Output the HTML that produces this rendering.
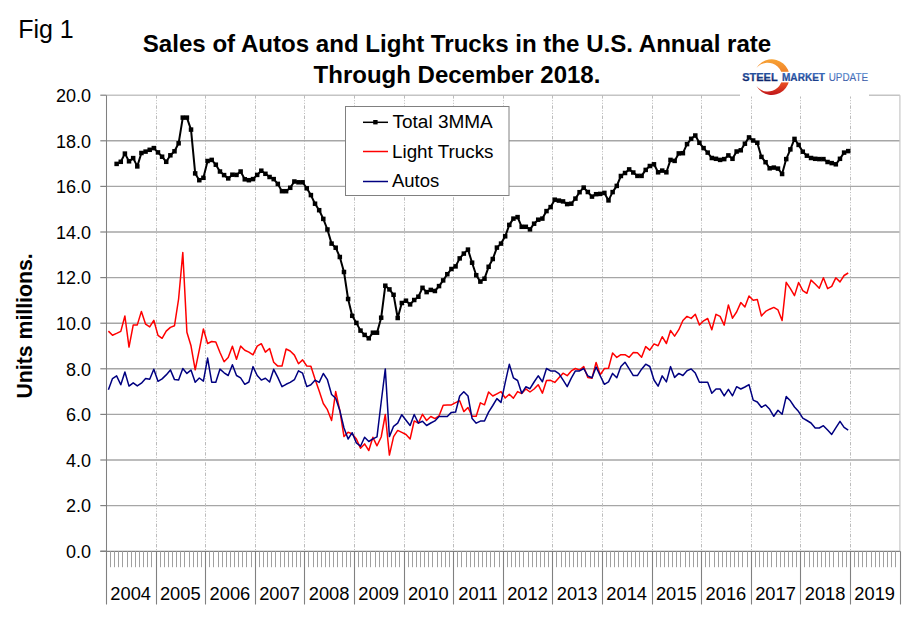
<!DOCTYPE html><html><head><meta charset="utf-8"><style>html,body{margin:0;padding:0;background:#fff;width:910px;height:622px;overflow:hidden}svg{display:block}text{font-family:"Liberation Sans",Arial,sans-serif}</style></head><body>
<svg width="910" height="622" viewBox="0 0 910 622">
<rect width="910" height="622" fill="#fff"/>
<line x1="106.3" y1="505.6" x2="899.9" y2="505.6" stroke="#a6a6a6" stroke-width="1.4"/>
<line x1="106.3" y1="460.0" x2="899.9" y2="460.0" stroke="#a6a6a6" stroke-width="1.4"/>
<line x1="106.3" y1="414.4" x2="899.9" y2="414.4" stroke="#a6a6a6" stroke-width="1.4"/>
<line x1="106.3" y1="368.8" x2="899.9" y2="368.8" stroke="#a6a6a6" stroke-width="1.4"/>
<line x1="106.3" y1="323.2" x2="899.9" y2="323.2" stroke="#a6a6a6" stroke-width="1.4"/>
<line x1="106.3" y1="277.6" x2="899.9" y2="277.6" stroke="#a6a6a6" stroke-width="1.4"/>
<line x1="106.3" y1="232.0" x2="899.9" y2="232.0" stroke="#a6a6a6" stroke-width="1.4"/>
<line x1="106.3" y1="186.4" x2="899.9" y2="186.4" stroke="#a6a6a6" stroke-width="1.4"/>
<line x1="106.3" y1="140.8" x2="899.9" y2="140.8" stroke="#a6a6a6" stroke-width="1.4"/>
<line x1="106.3" y1="95.2" x2="899.9" y2="95.2" stroke="#c4c4c4" stroke-width="1.4"/>
<line x1="156.5" y1="95.2" x2="156.5" y2="551.2" stroke="#bcbcbc" stroke-width="1" stroke-dasharray="3.4 1.6 1 1.6 1 1.6"/>
<line x1="205.5" y1="95.2" x2="205.5" y2="551.2" stroke="#bcbcbc" stroke-width="1" stroke-dasharray="3.4 1.6 1 1.6 1 1.6"/>
<line x1="255.5" y1="95.2" x2="255.5" y2="551.2" stroke="#bcbcbc" stroke-width="1" stroke-dasharray="3.4 1.6 1 1.6 1 1.6"/>
<line x1="304.5" y1="95.2" x2="304.5" y2="551.2" stroke="#bcbcbc" stroke-width="1" stroke-dasharray="3.4 1.6 1 1.6 1 1.6"/>
<line x1="354.5" y1="95.2" x2="354.5" y2="551.2" stroke="#bcbcbc" stroke-width="1" stroke-dasharray="3.4 1.6 1 1.6 1 1.6"/>
<line x1="404.5" y1="95.2" x2="404.5" y2="551.2" stroke="#bcbcbc" stroke-width="1" stroke-dasharray="3.4 1.6 1 1.6 1 1.6"/>
<line x1="453.5" y1="95.2" x2="453.5" y2="551.2" stroke="#bcbcbc" stroke-width="1" stroke-dasharray="3.4 1.6 1 1.6 1 1.6"/>
<line x1="503.5" y1="95.2" x2="503.5" y2="551.2" stroke="#bcbcbc" stroke-width="1" stroke-dasharray="3.4 1.6 1 1.6 1 1.6"/>
<line x1="552.5" y1="95.2" x2="552.5" y2="551.2" stroke="#bcbcbc" stroke-width="1" stroke-dasharray="3.4 1.6 1 1.6 1 1.6"/>
<line x1="602.5" y1="95.2" x2="602.5" y2="551.2" stroke="#bcbcbc" stroke-width="1" stroke-dasharray="3.4 1.6 1 1.6 1 1.6"/>
<line x1="652.5" y1="95.2" x2="652.5" y2="551.2" stroke="#bcbcbc" stroke-width="1" stroke-dasharray="3.4 1.6 1 1.6 1 1.6"/>
<line x1="701.5" y1="95.2" x2="701.5" y2="551.2" stroke="#bcbcbc" stroke-width="1" stroke-dasharray="3.4 1.6 1 1.6 1 1.6"/>
<line x1="751.5" y1="95.2" x2="751.5" y2="551.2" stroke="#bcbcbc" stroke-width="1" stroke-dasharray="3.4 1.6 1 1.6 1 1.6"/>
<line x1="800.5" y1="95.2" x2="800.5" y2="551.2" stroke="#bcbcbc" stroke-width="1" stroke-dasharray="3.4 1.6 1 1.6 1 1.6"/>
<line x1="850.5" y1="95.2" x2="850.5" y2="551.2" stroke="#bcbcbc" stroke-width="1" stroke-dasharray="3.4 1.6 1 1.6 1 1.6"/>
<line x1="899.9" y1="95.2" x2="899.9" y2="551.2" stroke="#c8c8c8" stroke-width="1.2"/>
<line x1="106.5" y1="95.2" x2="106.5" y2="551.2" stroke="#808080" stroke-width="1.05"/>
<line x1="100.3" y1="551.2" x2="106.3" y2="551.2" stroke="#808080" stroke-width="1.2"/>
<text x="91.1" y="557.9" font-size="18" text-anchor="end">0.0</text>
<line x1="100.3" y1="505.6" x2="106.3" y2="505.6" stroke="#808080" stroke-width="1.2"/>
<text x="91.1" y="512.3" font-size="18" text-anchor="end">2.0</text>
<line x1="100.3" y1="460.0" x2="106.3" y2="460.0" stroke="#808080" stroke-width="1.2"/>
<text x="91.1" y="466.7" font-size="18" text-anchor="end">4.0</text>
<line x1="100.3" y1="414.4" x2="106.3" y2="414.4" stroke="#808080" stroke-width="1.2"/>
<text x="91.1" y="421.1" font-size="18" text-anchor="end">6.0</text>
<line x1="100.3" y1="368.8" x2="106.3" y2="368.8" stroke="#808080" stroke-width="1.2"/>
<text x="91.1" y="375.5" font-size="18" text-anchor="end">8.0</text>
<line x1="100.3" y1="323.2" x2="106.3" y2="323.2" stroke="#808080" stroke-width="1.2"/>
<text x="91.1" y="329.9" font-size="18" text-anchor="end">10.0</text>
<line x1="100.3" y1="277.6" x2="106.3" y2="277.6" stroke="#808080" stroke-width="1.2"/>
<text x="91.1" y="284.3" font-size="18" text-anchor="end">12.0</text>
<line x1="100.3" y1="232.0" x2="106.3" y2="232.0" stroke="#808080" stroke-width="1.2"/>
<text x="91.1" y="238.7" font-size="18" text-anchor="end">14.0</text>
<line x1="100.3" y1="186.4" x2="106.3" y2="186.4" stroke="#808080" stroke-width="1.2"/>
<text x="91.1" y="193.1" font-size="18" text-anchor="end">16.0</text>
<line x1="100.3" y1="140.8" x2="106.3" y2="140.8" stroke="#808080" stroke-width="1.2"/>
<text x="91.1" y="147.5" font-size="18" text-anchor="end">18.0</text>
<line x1="100.3" y1="95.2" x2="106.3" y2="95.2" stroke="#808080" stroke-width="1.2"/>
<text x="91.1" y="101.9" font-size="18" text-anchor="end">20.0</text>
<line x1="100.3" y1="551.4" x2="899.9" y2="551.4" stroke="#808080" stroke-width="1.1"/>
<line x1="110.5" y1="551.2" x2="110.5" y2="567.2" stroke="#a0a0a0" stroke-width="1"/>
<line x1="114.5" y1="551.2" x2="114.5" y2="567.2" stroke="#a0a0a0" stroke-width="1"/>
<line x1="118.5" y1="551.2" x2="118.5" y2="567.2" stroke="#a0a0a0" stroke-width="1"/>
<line x1="122.5" y1="551.2" x2="122.5" y2="567.2" stroke="#a0a0a0" stroke-width="1"/>
<line x1="127.5" y1="551.2" x2="127.5" y2="567.2" stroke="#a0a0a0" stroke-width="1"/>
<line x1="131.5" y1="551.2" x2="131.5" y2="567.2" stroke="#a0a0a0" stroke-width="1"/>
<line x1="135.5" y1="551.2" x2="135.5" y2="567.2" stroke="#a0a0a0" stroke-width="1"/>
<line x1="139.5" y1="551.2" x2="139.5" y2="567.2" stroke="#a0a0a0" stroke-width="1"/>
<line x1="143.5" y1="551.2" x2="143.5" y2="567.2" stroke="#a0a0a0" stroke-width="1"/>
<line x1="147.5" y1="551.2" x2="147.5" y2="567.2" stroke="#a0a0a0" stroke-width="1"/>
<line x1="151.5" y1="551.2" x2="151.5" y2="567.2" stroke="#a0a0a0" stroke-width="1"/>
<line x1="160.5" y1="551.2" x2="160.5" y2="567.2" stroke="#a0a0a0" stroke-width="1"/>
<line x1="164.5" y1="551.2" x2="164.5" y2="567.2" stroke="#a0a0a0" stroke-width="1"/>
<line x1="168.5" y1="551.2" x2="168.5" y2="567.2" stroke="#a0a0a0" stroke-width="1"/>
<line x1="172.5" y1="551.2" x2="172.5" y2="567.2" stroke="#a0a0a0" stroke-width="1"/>
<line x1="176.5" y1="551.2" x2="176.5" y2="567.2" stroke="#a0a0a0" stroke-width="1"/>
<line x1="180.5" y1="551.2" x2="180.5" y2="567.2" stroke="#a0a0a0" stroke-width="1"/>
<line x1="184.5" y1="551.2" x2="184.5" y2="567.2" stroke="#a0a0a0" stroke-width="1"/>
<line x1="189.5" y1="551.2" x2="189.5" y2="567.2" stroke="#a0a0a0" stroke-width="1"/>
<line x1="193.5" y1="551.2" x2="193.5" y2="567.2" stroke="#a0a0a0" stroke-width="1"/>
<line x1="197.5" y1="551.2" x2="197.5" y2="567.2" stroke="#a0a0a0" stroke-width="1"/>
<line x1="201.5" y1="551.2" x2="201.5" y2="567.2" stroke="#a0a0a0" stroke-width="1"/>
<line x1="209.5" y1="551.2" x2="209.5" y2="567.2" stroke="#a0a0a0" stroke-width="1"/>
<line x1="213.5" y1="551.2" x2="213.5" y2="567.2" stroke="#a0a0a0" stroke-width="1"/>
<line x1="218.5" y1="551.2" x2="218.5" y2="567.2" stroke="#a0a0a0" stroke-width="1"/>
<line x1="222.5" y1="551.2" x2="222.5" y2="567.2" stroke="#a0a0a0" stroke-width="1"/>
<line x1="226.5" y1="551.2" x2="226.5" y2="567.2" stroke="#a0a0a0" stroke-width="1"/>
<line x1="230.5" y1="551.2" x2="230.5" y2="567.2" stroke="#a0a0a0" stroke-width="1"/>
<line x1="234.5" y1="551.2" x2="234.5" y2="567.2" stroke="#a0a0a0" stroke-width="1"/>
<line x1="238.5" y1="551.2" x2="238.5" y2="567.2" stroke="#a0a0a0" stroke-width="1"/>
<line x1="242.5" y1="551.2" x2="242.5" y2="567.2" stroke="#a0a0a0" stroke-width="1"/>
<line x1="246.5" y1="551.2" x2="246.5" y2="567.2" stroke="#a0a0a0" stroke-width="1"/>
<line x1="251.5" y1="551.2" x2="251.5" y2="567.2" stroke="#a0a0a0" stroke-width="1"/>
<line x1="259.5" y1="551.2" x2="259.5" y2="567.2" stroke="#a0a0a0" stroke-width="1"/>
<line x1="263.5" y1="551.2" x2="263.5" y2="567.2" stroke="#a0a0a0" stroke-width="1"/>
<line x1="267.5" y1="551.2" x2="267.5" y2="567.2" stroke="#a0a0a0" stroke-width="1"/>
<line x1="271.5" y1="551.2" x2="271.5" y2="567.2" stroke="#a0a0a0" stroke-width="1"/>
<line x1="275.5" y1="551.2" x2="275.5" y2="567.2" stroke="#a0a0a0" stroke-width="1"/>
<line x1="280.5" y1="551.2" x2="280.5" y2="567.2" stroke="#a0a0a0" stroke-width="1"/>
<line x1="284.5" y1="551.2" x2="284.5" y2="567.2" stroke="#a0a0a0" stroke-width="1"/>
<line x1="288.5" y1="551.2" x2="288.5" y2="567.2" stroke="#a0a0a0" stroke-width="1"/>
<line x1="292.5" y1="551.2" x2="292.5" y2="567.2" stroke="#a0a0a0" stroke-width="1"/>
<line x1="296.5" y1="551.2" x2="296.5" y2="567.2" stroke="#a0a0a0" stroke-width="1"/>
<line x1="300.5" y1="551.2" x2="300.5" y2="567.2" stroke="#a0a0a0" stroke-width="1"/>
<line x1="308.5" y1="551.2" x2="308.5" y2="567.2" stroke="#a0a0a0" stroke-width="1"/>
<line x1="313.5" y1="551.2" x2="313.5" y2="567.2" stroke="#a0a0a0" stroke-width="1"/>
<line x1="317.5" y1="551.2" x2="317.5" y2="567.2" stroke="#a0a0a0" stroke-width="1"/>
<line x1="321.5" y1="551.2" x2="321.5" y2="567.2" stroke="#a0a0a0" stroke-width="1"/>
<line x1="325.5" y1="551.2" x2="325.5" y2="567.2" stroke="#a0a0a0" stroke-width="1"/>
<line x1="329.5" y1="551.2" x2="329.5" y2="567.2" stroke="#a0a0a0" stroke-width="1"/>
<line x1="333.5" y1="551.2" x2="333.5" y2="567.2" stroke="#a0a0a0" stroke-width="1"/>
<line x1="337.5" y1="551.2" x2="337.5" y2="567.2" stroke="#a0a0a0" stroke-width="1"/>
<line x1="342.5" y1="551.2" x2="342.5" y2="567.2" stroke="#a0a0a0" stroke-width="1"/>
<line x1="346.5" y1="551.2" x2="346.5" y2="567.2" stroke="#a0a0a0" stroke-width="1"/>
<line x1="350.5" y1="551.2" x2="350.5" y2="567.2" stroke="#a0a0a0" stroke-width="1"/>
<line x1="358.5" y1="551.2" x2="358.5" y2="567.2" stroke="#a0a0a0" stroke-width="1"/>
<line x1="362.5" y1="551.2" x2="362.5" y2="567.2" stroke="#a0a0a0" stroke-width="1"/>
<line x1="366.5" y1="551.2" x2="366.5" y2="567.2" stroke="#a0a0a0" stroke-width="1"/>
<line x1="370.5" y1="551.2" x2="370.5" y2="567.2" stroke="#a0a0a0" stroke-width="1"/>
<line x1="375.5" y1="551.2" x2="375.5" y2="567.2" stroke="#a0a0a0" stroke-width="1"/>
<line x1="379.5" y1="551.2" x2="379.5" y2="567.2" stroke="#a0a0a0" stroke-width="1"/>
<line x1="383.5" y1="551.2" x2="383.5" y2="567.2" stroke="#a0a0a0" stroke-width="1"/>
<line x1="387.5" y1="551.2" x2="387.5" y2="567.2" stroke="#a0a0a0" stroke-width="1"/>
<line x1="391.5" y1="551.2" x2="391.5" y2="567.2" stroke="#a0a0a0" stroke-width="1"/>
<line x1="395.5" y1="551.2" x2="395.5" y2="567.2" stroke="#a0a0a0" stroke-width="1"/>
<line x1="399.5" y1="551.2" x2="399.5" y2="567.2" stroke="#a0a0a0" stroke-width="1"/>
<line x1="408.5" y1="551.2" x2="408.5" y2="567.2" stroke="#a0a0a0" stroke-width="1"/>
<line x1="412.5" y1="551.2" x2="412.5" y2="567.2" stroke="#a0a0a0" stroke-width="1"/>
<line x1="416.5" y1="551.2" x2="416.5" y2="567.2" stroke="#a0a0a0" stroke-width="1"/>
<line x1="420.5" y1="551.2" x2="420.5" y2="567.2" stroke="#a0a0a0" stroke-width="1"/>
<line x1="424.5" y1="551.2" x2="424.5" y2="567.2" stroke="#a0a0a0" stroke-width="1"/>
<line x1="428.5" y1="551.2" x2="428.5" y2="567.2" stroke="#a0a0a0" stroke-width="1"/>
<line x1="432.5" y1="551.2" x2="432.5" y2="567.2" stroke="#a0a0a0" stroke-width="1"/>
<line x1="437.5" y1="551.2" x2="437.5" y2="567.2" stroke="#a0a0a0" stroke-width="1"/>
<line x1="441.5" y1="551.2" x2="441.5" y2="567.2" stroke="#a0a0a0" stroke-width="1"/>
<line x1="445.5" y1="551.2" x2="445.5" y2="567.2" stroke="#a0a0a0" stroke-width="1"/>
<line x1="449.5" y1="551.2" x2="449.5" y2="567.2" stroke="#a0a0a0" stroke-width="1"/>
<line x1="457.5" y1="551.2" x2="457.5" y2="567.2" stroke="#a0a0a0" stroke-width="1"/>
<line x1="461.5" y1="551.2" x2="461.5" y2="567.2" stroke="#a0a0a0" stroke-width="1"/>
<line x1="466.5" y1="551.2" x2="466.5" y2="567.2" stroke="#a0a0a0" stroke-width="1"/>
<line x1="470.5" y1="551.2" x2="470.5" y2="567.2" stroke="#a0a0a0" stroke-width="1"/>
<line x1="474.5" y1="551.2" x2="474.5" y2="567.2" stroke="#a0a0a0" stroke-width="1"/>
<line x1="478.5" y1="551.2" x2="478.5" y2="567.2" stroke="#a0a0a0" stroke-width="1"/>
<line x1="482.5" y1="551.2" x2="482.5" y2="567.2" stroke="#a0a0a0" stroke-width="1"/>
<line x1="486.5" y1="551.2" x2="486.5" y2="567.2" stroke="#a0a0a0" stroke-width="1"/>
<line x1="490.5" y1="551.2" x2="490.5" y2="567.2" stroke="#a0a0a0" stroke-width="1"/>
<line x1="494.5" y1="551.2" x2="494.5" y2="567.2" stroke="#a0a0a0" stroke-width="1"/>
<line x1="499.5" y1="551.2" x2="499.5" y2="567.2" stroke="#a0a0a0" stroke-width="1"/>
<line x1="507.5" y1="551.2" x2="507.5" y2="567.2" stroke="#a0a0a0" stroke-width="1"/>
<line x1="511.5" y1="551.2" x2="511.5" y2="567.2" stroke="#a0a0a0" stroke-width="1"/>
<line x1="515.5" y1="551.2" x2="515.5" y2="567.2" stroke="#a0a0a0" stroke-width="1"/>
<line x1="519.5" y1="551.2" x2="519.5" y2="567.2" stroke="#a0a0a0" stroke-width="1"/>
<line x1="523.5" y1="551.2" x2="523.5" y2="567.2" stroke="#a0a0a0" stroke-width="1"/>
<line x1="528.5" y1="551.2" x2="528.5" y2="567.2" stroke="#a0a0a0" stroke-width="1"/>
<line x1="532.5" y1="551.2" x2="532.5" y2="567.2" stroke="#a0a0a0" stroke-width="1"/>
<line x1="536.5" y1="551.2" x2="536.5" y2="567.2" stroke="#a0a0a0" stroke-width="1"/>
<line x1="540.5" y1="551.2" x2="540.5" y2="567.2" stroke="#a0a0a0" stroke-width="1"/>
<line x1="544.5" y1="551.2" x2="544.5" y2="567.2" stroke="#a0a0a0" stroke-width="1"/>
<line x1="548.5" y1="551.2" x2="548.5" y2="567.2" stroke="#a0a0a0" stroke-width="1"/>
<line x1="556.5" y1="551.2" x2="556.5" y2="567.2" stroke="#a0a0a0" stroke-width="1"/>
<line x1="561.5" y1="551.2" x2="561.5" y2="567.2" stroke="#a0a0a0" stroke-width="1"/>
<line x1="565.5" y1="551.2" x2="565.5" y2="567.2" stroke="#a0a0a0" stroke-width="1"/>
<line x1="569.5" y1="551.2" x2="569.5" y2="567.2" stroke="#a0a0a0" stroke-width="1"/>
<line x1="573.5" y1="551.2" x2="573.5" y2="567.2" stroke="#a0a0a0" stroke-width="1"/>
<line x1="577.5" y1="551.2" x2="577.5" y2="567.2" stroke="#a0a0a0" stroke-width="1"/>
<line x1="581.5" y1="551.2" x2="581.5" y2="567.2" stroke="#a0a0a0" stroke-width="1"/>
<line x1="585.5" y1="551.2" x2="585.5" y2="567.2" stroke="#a0a0a0" stroke-width="1"/>
<line x1="590.5" y1="551.2" x2="590.5" y2="567.2" stroke="#a0a0a0" stroke-width="1"/>
<line x1="594.5" y1="551.2" x2="594.5" y2="567.2" stroke="#a0a0a0" stroke-width="1"/>
<line x1="598.5" y1="551.2" x2="598.5" y2="567.2" stroke="#a0a0a0" stroke-width="1"/>
<line x1="606.5" y1="551.2" x2="606.5" y2="567.2" stroke="#a0a0a0" stroke-width="1"/>
<line x1="610.5" y1="551.2" x2="610.5" y2="567.2" stroke="#a0a0a0" stroke-width="1"/>
<line x1="614.5" y1="551.2" x2="614.5" y2="567.2" stroke="#a0a0a0" stroke-width="1"/>
<line x1="618.5" y1="551.2" x2="618.5" y2="567.2" stroke="#a0a0a0" stroke-width="1"/>
<line x1="623.5" y1="551.2" x2="623.5" y2="567.2" stroke="#a0a0a0" stroke-width="1"/>
<line x1="627.5" y1="551.2" x2="627.5" y2="567.2" stroke="#a0a0a0" stroke-width="1"/>
<line x1="631.5" y1="551.2" x2="631.5" y2="567.2" stroke="#a0a0a0" stroke-width="1"/>
<line x1="635.5" y1="551.2" x2="635.5" y2="567.2" stroke="#a0a0a0" stroke-width="1"/>
<line x1="639.5" y1="551.2" x2="639.5" y2="567.2" stroke="#a0a0a0" stroke-width="1"/>
<line x1="643.5" y1="551.2" x2="643.5" y2="567.2" stroke="#a0a0a0" stroke-width="1"/>
<line x1="647.5" y1="551.2" x2="647.5" y2="567.2" stroke="#a0a0a0" stroke-width="1"/>
<line x1="656.5" y1="551.2" x2="656.5" y2="567.2" stroke="#a0a0a0" stroke-width="1"/>
<line x1="660.5" y1="551.2" x2="660.5" y2="567.2" stroke="#a0a0a0" stroke-width="1"/>
<line x1="664.5" y1="551.2" x2="664.5" y2="567.2" stroke="#a0a0a0" stroke-width="1"/>
<line x1="668.5" y1="551.2" x2="668.5" y2="567.2" stroke="#a0a0a0" stroke-width="1"/>
<line x1="672.5" y1="551.2" x2="672.5" y2="567.2" stroke="#a0a0a0" stroke-width="1"/>
<line x1="676.5" y1="551.2" x2="676.5" y2="567.2" stroke="#a0a0a0" stroke-width="1"/>
<line x1="680.5" y1="551.2" x2="680.5" y2="567.2" stroke="#a0a0a0" stroke-width="1"/>
<line x1="685.5" y1="551.2" x2="685.5" y2="567.2" stroke="#a0a0a0" stroke-width="1"/>
<line x1="689.5" y1="551.2" x2="689.5" y2="567.2" stroke="#a0a0a0" stroke-width="1"/>
<line x1="693.5" y1="551.2" x2="693.5" y2="567.2" stroke="#a0a0a0" stroke-width="1"/>
<line x1="697.5" y1="551.2" x2="697.5" y2="567.2" stroke="#a0a0a0" stroke-width="1"/>
<line x1="705.5" y1="551.2" x2="705.5" y2="567.2" stroke="#a0a0a0" stroke-width="1"/>
<line x1="709.5" y1="551.2" x2="709.5" y2="567.2" stroke="#a0a0a0" stroke-width="1"/>
<line x1="714.5" y1="551.2" x2="714.5" y2="567.2" stroke="#a0a0a0" stroke-width="1"/>
<line x1="718.5" y1="551.2" x2="718.5" y2="567.2" stroke="#a0a0a0" stroke-width="1"/>
<line x1="722.5" y1="551.2" x2="722.5" y2="567.2" stroke="#a0a0a0" stroke-width="1"/>
<line x1="726.5" y1="551.2" x2="726.5" y2="567.2" stroke="#a0a0a0" stroke-width="1"/>
<line x1="730.5" y1="551.2" x2="730.5" y2="567.2" stroke="#a0a0a0" stroke-width="1"/>
<line x1="734.5" y1="551.2" x2="734.5" y2="567.2" stroke="#a0a0a0" stroke-width="1"/>
<line x1="738.5" y1="551.2" x2="738.5" y2="567.2" stroke="#a0a0a0" stroke-width="1"/>
<line x1="742.5" y1="551.2" x2="742.5" y2="567.2" stroke="#a0a0a0" stroke-width="1"/>
<line x1="747.5" y1="551.2" x2="747.5" y2="567.2" stroke="#a0a0a0" stroke-width="1"/>
<line x1="755.5" y1="551.2" x2="755.5" y2="567.2" stroke="#a0a0a0" stroke-width="1"/>
<line x1="759.5" y1="551.2" x2="759.5" y2="567.2" stroke="#a0a0a0" stroke-width="1"/>
<line x1="763.5" y1="551.2" x2="763.5" y2="567.2" stroke="#a0a0a0" stroke-width="1"/>
<line x1="767.5" y1="551.2" x2="767.5" y2="567.2" stroke="#a0a0a0" stroke-width="1"/>
<line x1="771.5" y1="551.2" x2="771.5" y2="567.2" stroke="#a0a0a0" stroke-width="1"/>
<line x1="776.5" y1="551.2" x2="776.5" y2="567.2" stroke="#a0a0a0" stroke-width="1"/>
<line x1="780.5" y1="551.2" x2="780.5" y2="567.2" stroke="#a0a0a0" stroke-width="1"/>
<line x1="784.5" y1="551.2" x2="784.5" y2="567.2" stroke="#a0a0a0" stroke-width="1"/>
<line x1="788.5" y1="551.2" x2="788.5" y2="567.2" stroke="#a0a0a0" stroke-width="1"/>
<line x1="792.5" y1="551.2" x2="792.5" y2="567.2" stroke="#a0a0a0" stroke-width="1"/>
<line x1="796.5" y1="551.2" x2="796.5" y2="567.2" stroke="#a0a0a0" stroke-width="1"/>
<line x1="804.5" y1="551.2" x2="804.5" y2="567.2" stroke="#a0a0a0" stroke-width="1"/>
<line x1="809.5" y1="551.2" x2="809.5" y2="567.2" stroke="#a0a0a0" stroke-width="1"/>
<line x1="813.5" y1="551.2" x2="813.5" y2="567.2" stroke="#a0a0a0" stroke-width="1"/>
<line x1="817.5" y1="551.2" x2="817.5" y2="567.2" stroke="#a0a0a0" stroke-width="1"/>
<line x1="821.5" y1="551.2" x2="821.5" y2="567.2" stroke="#a0a0a0" stroke-width="1"/>
<line x1="825.5" y1="551.2" x2="825.5" y2="567.2" stroke="#a0a0a0" stroke-width="1"/>
<line x1="829.5" y1="551.2" x2="829.5" y2="567.2" stroke="#a0a0a0" stroke-width="1"/>
<line x1="833.5" y1="551.2" x2="833.5" y2="567.2" stroke="#a0a0a0" stroke-width="1"/>
<line x1="838.5" y1="551.2" x2="838.5" y2="567.2" stroke="#a0a0a0" stroke-width="1"/>
<line x1="842.5" y1="551.2" x2="842.5" y2="567.2" stroke="#a0a0a0" stroke-width="1"/>
<line x1="846.5" y1="551.2" x2="846.5" y2="567.2" stroke="#a0a0a0" stroke-width="1"/>
<line x1="854.5" y1="551.2" x2="854.5" y2="567.2" stroke="#a0a0a0" stroke-width="1"/>
<line x1="858.5" y1="551.2" x2="858.5" y2="567.2" stroke="#a0a0a0" stroke-width="1"/>
<line x1="862.5" y1="551.2" x2="862.5" y2="567.2" stroke="#a0a0a0" stroke-width="1"/>
<line x1="866.5" y1="551.2" x2="866.5" y2="567.2" stroke="#a0a0a0" stroke-width="1"/>
<line x1="871.5" y1="551.2" x2="871.5" y2="567.2" stroke="#a0a0a0" stroke-width="1"/>
<line x1="875.5" y1="551.2" x2="875.5" y2="567.2" stroke="#a0a0a0" stroke-width="1"/>
<line x1="879.5" y1="551.2" x2="879.5" y2="567.2" stroke="#a0a0a0" stroke-width="1"/>
<line x1="883.5" y1="551.2" x2="883.5" y2="567.2" stroke="#a0a0a0" stroke-width="1"/>
<line x1="887.5" y1="551.2" x2="887.5" y2="567.2" stroke="#a0a0a0" stroke-width="1"/>
<line x1="891.5" y1="551.2" x2="891.5" y2="567.2" stroke="#a0a0a0" stroke-width="1"/>
<line x1="895.5" y1="551.2" x2="895.5" y2="567.2" stroke="#a0a0a0" stroke-width="1"/>
<line x1="106.5" y1="551.2" x2="106.5" y2="604.5" stroke="#808080" stroke-width="1.1"/>
<line x1="156.5" y1="551.2" x2="156.5" y2="604.5" stroke="#808080" stroke-width="1.1"/>
<line x1="205.5" y1="551.2" x2="205.5" y2="604.5" stroke="#808080" stroke-width="1.1"/>
<line x1="255.5" y1="551.2" x2="255.5" y2="604.5" stroke="#808080" stroke-width="1.1"/>
<line x1="304.5" y1="551.2" x2="304.5" y2="604.5" stroke="#808080" stroke-width="1.1"/>
<line x1="354.5" y1="551.2" x2="354.5" y2="604.5" stroke="#808080" stroke-width="1.1"/>
<line x1="404.5" y1="551.2" x2="404.5" y2="604.5" stroke="#808080" stroke-width="1.1"/>
<line x1="453.5" y1="551.2" x2="453.5" y2="604.5" stroke="#808080" stroke-width="1.1"/>
<line x1="503.5" y1="551.2" x2="503.5" y2="604.5" stroke="#808080" stroke-width="1.1"/>
<line x1="552.5" y1="551.2" x2="552.5" y2="604.5" stroke="#808080" stroke-width="1.1"/>
<line x1="602.5" y1="551.2" x2="602.5" y2="604.5" stroke="#808080" stroke-width="1.1"/>
<line x1="652.5" y1="551.2" x2="652.5" y2="604.5" stroke="#808080" stroke-width="1.1"/>
<line x1="701.5" y1="551.2" x2="701.5" y2="604.5" stroke="#808080" stroke-width="1.1"/>
<line x1="751.5" y1="551.2" x2="751.5" y2="604.5" stroke="#808080" stroke-width="1.1"/>
<line x1="800.5" y1="551.2" x2="800.5" y2="604.5" stroke="#808080" stroke-width="1.1"/>
<line x1="850.5" y1="551.2" x2="850.5" y2="604.5" stroke="#808080" stroke-width="1.1"/>
<line x1="900.5" y1="551.2" x2="900.5" y2="604.5" stroke="#808080" stroke-width="1.1"/>
<text x="130.7" y="600.2" font-size="18.3" text-anchor="middle">2004</text>
<text x="180.3" y="600.2" font-size="18.3" text-anchor="middle">2005</text>
<text x="229.9" y="600.2" font-size="18.3" text-anchor="middle">2006</text>
<text x="279.5" y="600.2" font-size="18.3" text-anchor="middle">2007</text>
<text x="329.1" y="600.2" font-size="18.3" text-anchor="middle">2008</text>
<text x="378.7" y="600.2" font-size="18.3" text-anchor="middle">2009</text>
<text x="428.3" y="600.2" font-size="18.3" text-anchor="middle">2010</text>
<text x="477.9" y="600.2" font-size="18.3" text-anchor="middle">2011</text>
<text x="527.5" y="600.2" font-size="18.3" text-anchor="middle">2012</text>
<text x="577.1" y="600.2" font-size="18.3" text-anchor="middle">2013</text>
<text x="626.7" y="600.2" font-size="18.3" text-anchor="middle">2014</text>
<text x="676.3" y="600.2" font-size="18.3" text-anchor="middle">2015</text>
<text x="725.9" y="600.2" font-size="18.3" text-anchor="middle">2016</text>
<text x="775.5" y="600.2" font-size="18.3" text-anchor="middle">2017</text>
<text x="825.1" y="600.2" font-size="18.3" text-anchor="middle">2018</text>
<text x="874.7" y="600.2" font-size="18.3" text-anchor="middle">2019</text>
<polyline points="108.4,331.1 112.5,335.2 116.6,333.4 120.8,331.4 124.9,316.0 129.0,347.1 133.2,325.1 137.3,324.9 141.4,311.4 145.6,324.2 149.7,326.9 153.8,320.3 158.0,335.4 162.1,338.3 166.2,331.1 170.4,327.4 174.5,325.7 178.6,299.0 182.8,252.5 186.9,332.2 191.0,345.8 195.2,369.8 199.3,349.9 203.4,329.0 207.6,343.5 211.7,341.5 215.8,342.0 220.0,352.5 224.1,361.7 228.2,357.5 232.4,346.3 236.5,359.2 240.6,346.1 244.8,350.2 248.9,352.1 253.0,354.8 257.2,346.1 261.3,343.7 265.4,352.1 269.6,348.5 273.7,362.2 277.8,366.1 282.0,366.1 286.1,349.0 290.2,351.0 294.4,355.1 298.5,363.8 302.6,359.9 306.8,366.0 310.9,366.2 315.0,378.9 319.2,390.9 323.3,403.5 327.4,409.7 331.6,420.5 335.7,391.6 339.8,410.4 344.0,436.6 348.1,432.3 352.2,433.9 356.4,439.0 360.5,448.2 364.6,443.9 368.8,450.5 372.9,437.3 377.0,445.8 381.2,437.0 385.3,414.5 389.4,455.1 393.6,436.6 397.7,430.4 401.8,432.4 406.0,434.5 410.1,439.0 414.2,420.9 418.4,423.1 422.5,414.3 426.6,420.5 430.8,416.5 434.9,418.6 439.0,415.9 443.2,405.2 447.3,404.9 451.4,404.9 455.6,402.6 459.7,400.8 463.8,411.6 468.0,407.5 472.1,416.3 476.2,416.3 480.4,402.8 484.5,404.8 488.6,392.0 492.8,396.0 496.9,393.8 501.0,391.6 505.2,398.0 509.3,394.2 513.4,398.2 517.6,391.6 521.7,393.6 525.8,388.9 530.0,392.0 534.1,389.0 538.2,384.7 542.4,393.2 546.5,380.5 550.6,380.3 554.8,382.4 558.9,377.8 563.0,373.2 567.2,375.7 571.3,370.9 575.4,368.5 579.6,370.1 583.7,366.6 587.8,377.4 592.0,378.2 596.1,362.4 600.2,374.7 604.4,368.6 608.5,368.3 612.6,352.9 616.8,357.4 620.9,354.7 625.0,354.7 629.2,357.3 633.3,352.6 637.4,352.8 641.6,357.3 645.7,346.6 649.8,350.1 654.0,343.9 658.1,345.8 662.2,336.7 666.4,343.5 670.5,330.5 674.6,336.1 678.8,329.7 682.9,320.5 687.0,316.4 691.2,318.4 695.3,314.3 699.4,325.1 703.6,320.8 707.7,318.5 711.8,329.7 716.0,314.3 720.1,316.4 724.2,325.1 728.4,304.9 732.5,318.2 736.6,312.0 740.8,302.6 744.9,307.0 749.0,295.9 753.2,300.2 757.3,299.4 761.4,315.9 765.6,311.4 769.7,309.2 773.8,307.4 778.0,309.9 782.1,320.5 786.2,282.3 790.4,288.6 794.5,295.6 798.6,282.5 802.8,290.6 806.9,293.3 811.0,280.1 815.2,284.0 819.3,288.2 823.4,277.8 827.6,288.6 831.7,286.3 835.8,277.8 840.0,281.9 844.1,275.5 848.2,273.0" fill="none" stroke="#ff0000" stroke-width="1.5" stroke-linejoin="round"/>
<polyline points="108.4,389.7 112.5,378.6 116.6,375.9 120.8,384.7 124.9,372.0 129.0,386.1 133.2,382.8 137.3,385.9 141.4,383.2 145.6,378.6 149.7,379.3 153.8,369.3 158.0,381.3 162.1,378.9 166.2,374.9 170.4,369.9 174.5,379.6 178.6,380.1 182.8,368.5 186.9,373.4 191.0,370.1 195.2,382.2 199.3,378.0 203.4,381.1 207.6,358.1 211.7,382.2 215.8,382.2 220.0,369.1 224.1,372.8 228.2,375.5 232.4,364.7 236.5,375.5 240.6,377.8 244.8,384.3 248.9,382.0 253.0,366.6 257.2,375.5 261.3,380.1 265.4,378.2 269.6,382.0 273.7,369.3 277.8,377.4 282.0,386.7 286.1,384.3 290.2,382.4 294.4,379.7 298.5,370.8 302.6,373.2 306.8,386.6 310.9,384.7 315.0,380.2 319.2,382.4 323.3,373.5 327.4,379.7 331.6,394.5 335.7,398.3 339.8,410.4 344.0,428.0 348.1,439.0 352.2,432.7 356.4,443.0 360.5,446.2 364.6,437.3 368.8,441.5 372.9,438.8 377.0,436.8 381.2,402.0 385.3,368.9 389.4,436.6 393.6,426.3 397.7,423.2 401.8,414.7 406.0,420.2 410.1,425.5 414.2,414.5 418.4,423.1 422.5,421.3 426.6,425.5 430.8,423.0 434.9,420.9 439.0,416.6 443.2,416.5 447.3,416.5 451.4,412.4 455.6,412.0 459.7,396.0 463.8,391.7 468.0,396.0 472.1,418.6 476.2,423.2 480.4,421.1 484.5,421.0 488.6,412.1 492.8,405.5 496.9,398.6 501.0,402.4 505.2,382.6 509.3,364.3 513.4,377.8 517.6,380.5 521.7,393.3 525.8,386.8 530.0,388.7 534.1,382.0 538.2,375.8 542.4,381.8 546.5,368.5 550.6,370.9 554.8,370.9 558.9,373.6 563.0,379.9 567.2,386.7 571.3,378.2 575.4,370.9 579.6,370.9 583.7,368.5 587.8,375.9 592.0,377.8 596.1,367.0 600.2,375.7 604.4,384.3 608.5,381.9 612.6,373.4 616.8,377.7 620.9,366.5 625.0,362.2 629.2,368.8 633.3,375.6 637.4,375.6 641.6,369.2 645.7,364.2 649.8,366.5 654.0,380.0 658.1,386.2 662.2,375.9 666.4,381.9 670.5,366.6 674.6,377.4 678.8,373.4 682.9,375.5 687.0,370.8 691.2,368.9 695.3,373.1 699.4,382.2 703.6,382.2 707.7,382.2 711.8,393.2 716.0,389.0 720.1,389.0 724.2,395.9 728.4,389.3 732.5,395.8 736.6,386.7 740.8,389.0 744.9,387.0 749.0,384.6 753.2,400.1 757.3,402.0 761.4,407.3 765.6,404.9 769.7,409.3 773.8,416.3 778.0,410.3 782.1,414.3 786.2,396.6 790.4,400.8 794.5,407.0 798.6,411.6 802.8,418.2 806.9,420.5 811.0,423.0 815.2,428.0 819.3,428.0 823.4,425.7 827.6,430.1 831.7,434.4 835.8,427.8 840.0,421.3 844.1,427.4 848.2,430.1" fill="none" stroke="#000080" stroke-width="1.5" stroke-linejoin="round"/>
<polyline points="116.6,163.9 120.8,161.8 124.9,153.6 129.0,161.3 133.2,158.1 137.3,166.4 141.4,153.0 145.6,151.6 149.7,149.8 153.8,148.1 158.0,152.4 162.1,156.7 166.2,161.8 170.4,155.3 174.5,151.3 178.6,143.3 182.8,117.6 186.9,117.6 191.0,129.6 195.2,173.4 199.3,180.2 203.4,177.8 207.6,161.0 211.7,159.9 215.8,164.7 220.0,171.5 224.1,175.1 228.2,178.4 232.4,174.7 236.5,174.9 240.6,171.5 244.8,179.3 248.9,180.2 253.0,179.1 257.2,174.9 261.3,170.7 265.4,173.8 269.6,177.0 273.7,179.1 277.8,183.9 282.0,191.2 286.1,191.2 290.2,187.8 294.4,181.5 298.5,182.3 302.6,182.3 306.8,188.3 310.9,195.1 315.0,203.7 319.2,210.2 323.3,218.9 327.4,229.5 331.6,243.6 335.7,247.7 339.8,257.0 344.0,272.0 348.1,299.0 352.2,315.8 356.4,322.9 360.5,330.6 364.6,334.9 368.8,338.3 372.9,332.7 377.0,332.7 381.2,317.7 385.3,285.7 389.4,289.4 393.6,294.8 397.7,318.0 401.8,303.0 406.0,300.7 410.1,304.4 414.2,300.0 418.4,296.7 422.5,287.8 426.6,292.1 430.8,289.9 434.9,291.0 439.0,286.1 443.2,280.4 447.3,274.2 451.4,269.0 455.6,266.4 459.7,258.4 463.8,253.6 468.0,249.6 472.1,262.7 476.2,275.2 480.4,281.6 484.5,278.7 488.6,266.8 492.8,259.0 496.9,247.6 501.0,243.6 505.2,236.3 509.3,224.9 513.4,218.6 517.6,217.1 521.7,226.8 525.8,226.8 530.0,229.4 534.1,223.7 538.2,219.7 542.4,218.6 546.5,211.1 550.6,207.1 554.8,199.7 558.9,200.6 563.0,201.4 567.2,204.1 571.3,203.7 575.4,198.6 579.6,192.2 583.7,187.6 587.8,192.0 592.0,196.6 596.1,194.2 600.2,193.9 604.4,192.9 608.5,200.4 612.6,192.1 616.8,185.9 620.9,176.0 625.0,173.0 629.2,169.4 633.3,172.5 637.4,175.9 641.6,175.9 645.7,169.9 649.8,166.0 654.0,164.3 658.1,172.3 662.2,170.6 666.4,172.3 670.5,159.9 674.6,160.9 678.8,153.4 682.9,153.2 687.0,144.1 691.2,138.8 695.3,135.5 699.4,142.8 703.6,148.1 707.7,152.6 711.8,158.0 716.0,158.8 720.1,159.9 724.2,159.1 728.4,155.4 732.5,158.8 736.6,151.5 740.8,150.3 744.9,143.7 749.0,137.4 753.2,140.5 757.3,142.8 761.4,156.9 765.6,162.2 769.7,168.3 773.8,167.6 778.0,168.6 782.1,174.0 786.2,159.1 790.4,149.4 794.5,138.9 798.6,144.9 802.8,151.7 806.9,155.7 811.0,158.0 815.2,158.8 819.3,159.1 823.4,159.1 827.6,162.0 831.7,163.1 835.8,164.3 840.0,158.8 844.1,152.6 848.2,151.1" fill="none" stroke="#000" stroke-width="2.0" stroke-linejoin="round"/>
<g fill="#000"><rect x="114.38" y="161.65" width="4.5" height="4.5"/><rect x="118.52" y="159.55" width="4.5" height="4.5"/><rect x="122.65" y="151.35" width="4.5" height="4.5"/><rect x="126.78" y="159.05" width="4.5" height="4.5"/><rect x="130.92" y="155.85" width="4.5" height="4.5"/><rect x="135.05" y="164.15" width="4.5" height="4.5"/><rect x="139.18" y="150.75" width="4.5" height="4.5"/><rect x="143.32" y="149.35" width="4.5" height="4.5"/><rect x="147.45" y="147.55" width="4.5" height="4.5"/><rect x="151.58" y="145.85" width="4.5" height="4.5"/><rect x="155.72" y="150.15" width="4.5" height="4.5"/><rect x="159.85" y="154.45" width="4.5" height="4.5"/><rect x="163.98" y="159.55" width="4.5" height="4.5"/><rect x="168.12" y="153.05" width="4.5" height="4.5"/><rect x="172.25" y="149.05" width="4.5" height="4.5"/><rect x="176.38" y="141.05" width="4.5" height="4.5"/><rect x="180.52" y="115.35" width="4.5" height="4.5"/><rect x="184.65" y="115.35" width="4.5" height="4.5"/><rect x="188.78" y="127.35" width="4.5" height="4.5"/><rect x="192.92" y="171.15" width="4.5" height="4.5"/><rect x="197.05" y="177.95" width="4.5" height="4.5"/><rect x="201.18" y="175.55" width="4.5" height="4.5"/><rect x="205.32" y="158.75" width="4.5" height="4.5"/><rect x="209.45" y="157.65" width="4.5" height="4.5"/><rect x="213.58" y="162.45" width="4.5" height="4.5"/><rect x="217.72" y="169.25" width="4.5" height="4.5"/><rect x="221.85" y="172.85" width="4.5" height="4.5"/><rect x="225.98" y="176.15" width="4.5" height="4.5"/><rect x="230.12" y="172.45" width="4.5" height="4.5"/><rect x="234.25" y="172.65" width="4.5" height="4.5"/><rect x="238.38" y="169.25" width="4.5" height="4.5"/><rect x="242.52" y="177.05" width="4.5" height="4.5"/><rect x="246.65" y="177.95" width="4.5" height="4.5"/><rect x="250.78" y="176.85" width="4.5" height="4.5"/><rect x="254.92" y="172.65" width="4.5" height="4.5"/><rect x="259.05" y="168.45" width="4.5" height="4.5"/><rect x="263.18" y="171.55" width="4.5" height="4.5"/><rect x="267.32" y="174.75" width="4.5" height="4.5"/><rect x="271.45" y="176.85" width="4.5" height="4.5"/><rect x="275.58" y="181.65" width="4.5" height="4.5"/><rect x="279.72" y="188.95" width="4.5" height="4.5"/><rect x="283.85" y="188.95" width="4.5" height="4.5"/><rect x="287.98" y="185.55" width="4.5" height="4.5"/><rect x="292.12" y="179.25" width="4.5" height="4.5"/><rect x="296.25" y="180.05" width="4.5" height="4.5"/><rect x="300.38" y="180.05" width="4.5" height="4.5"/><rect x="304.52" y="186.05" width="4.5" height="4.5"/><rect x="308.65" y="192.85" width="4.5" height="4.5"/><rect x="312.78" y="201.45" width="4.5" height="4.5"/><rect x="316.92" y="207.95" width="4.5" height="4.5"/><rect x="321.05" y="216.65" width="4.5" height="4.5"/><rect x="325.18" y="227.25" width="4.5" height="4.5"/><rect x="329.32" y="241.35" width="4.5" height="4.5"/><rect x="333.45" y="245.45" width="4.5" height="4.5"/><rect x="337.58" y="254.75" width="4.5" height="4.5"/><rect x="341.72" y="269.75" width="4.5" height="4.5"/><rect x="345.85" y="296.75" width="4.5" height="4.5"/><rect x="349.98" y="313.55" width="4.5" height="4.5"/><rect x="354.12" y="320.65" width="4.5" height="4.5"/><rect x="358.25" y="328.35" width="4.5" height="4.5"/><rect x="362.38" y="332.65" width="4.5" height="4.5"/><rect x="366.52" y="336.05" width="4.5" height="4.5"/><rect x="370.65" y="330.45" width="4.5" height="4.5"/><rect x="374.78" y="330.45" width="4.5" height="4.5"/><rect x="378.92" y="315.45" width="4.5" height="4.5"/><rect x="383.05" y="283.45" width="4.5" height="4.5"/><rect x="387.18" y="287.15" width="4.5" height="4.5"/><rect x="391.32" y="292.55" width="4.5" height="4.5"/><rect x="395.45" y="315.75" width="4.5" height="4.5"/><rect x="399.58" y="300.75" width="4.5" height="4.5"/><rect x="403.72" y="298.45" width="4.5" height="4.5"/><rect x="407.85" y="302.15" width="4.5" height="4.5"/><rect x="411.98" y="297.75" width="4.5" height="4.5"/><rect x="416.12" y="294.45" width="4.5" height="4.5"/><rect x="420.25" y="285.55" width="4.5" height="4.5"/><rect x="424.38" y="289.85" width="4.5" height="4.5"/><rect x="428.52" y="287.65" width="4.5" height="4.5"/><rect x="432.65" y="288.75" width="4.5" height="4.5"/><rect x="436.78" y="283.85" width="4.5" height="4.5"/><rect x="440.92" y="278.15" width="4.5" height="4.5"/><rect x="445.05" y="271.95" width="4.5" height="4.5"/><rect x="449.18" y="266.75" width="4.5" height="4.5"/><rect x="453.32" y="264.15" width="4.5" height="4.5"/><rect x="457.45" y="256.15" width="4.5" height="4.5"/><rect x="461.58" y="251.35" width="4.5" height="4.5"/><rect x="465.72" y="247.35" width="4.5" height="4.5"/><rect x="469.85" y="260.45" width="4.5" height="4.5"/><rect x="473.98" y="272.95" width="4.5" height="4.5"/><rect x="478.12" y="279.35" width="4.5" height="4.5"/><rect x="482.25" y="276.45" width="4.5" height="4.5"/><rect x="486.38" y="264.55" width="4.5" height="4.5"/><rect x="490.52" y="256.75" width="4.5" height="4.5"/><rect x="494.65" y="245.35" width="4.5" height="4.5"/><rect x="498.78" y="241.35" width="4.5" height="4.5"/><rect x="502.92" y="234.05" width="4.5" height="4.5"/><rect x="507.05" y="222.65" width="4.5" height="4.5"/><rect x="511.18" y="216.35" width="4.5" height="4.5"/><rect x="515.32" y="214.85" width="4.5" height="4.5"/><rect x="519.45" y="224.55" width="4.5" height="4.5"/><rect x="523.58" y="224.55" width="4.5" height="4.5"/><rect x="527.72" y="227.15" width="4.5" height="4.5"/><rect x="531.85" y="221.45" width="4.5" height="4.5"/><rect x="535.98" y="217.45" width="4.5" height="4.5"/><rect x="540.12" y="216.35" width="4.5" height="4.5"/><rect x="544.25" y="208.85" width="4.5" height="4.5"/><rect x="548.38" y="204.85" width="4.5" height="4.5"/><rect x="552.52" y="197.45" width="4.5" height="4.5"/><rect x="556.65" y="198.35" width="4.5" height="4.5"/><rect x="560.78" y="199.15" width="4.5" height="4.5"/><rect x="564.92" y="201.85" width="4.5" height="4.5"/><rect x="569.05" y="201.45" width="4.5" height="4.5"/><rect x="573.18" y="196.35" width="4.5" height="4.5"/><rect x="577.32" y="189.95" width="4.5" height="4.5"/><rect x="581.45" y="185.35" width="4.5" height="4.5"/><rect x="585.58" y="189.75" width="4.5" height="4.5"/><rect x="589.72" y="194.35" width="4.5" height="4.5"/><rect x="593.85" y="191.95" width="4.5" height="4.5"/><rect x="597.98" y="191.65" width="4.5" height="4.5"/><rect x="602.12" y="190.65" width="4.5" height="4.5"/><rect x="606.25" y="198.15" width="4.5" height="4.5"/><rect x="610.38" y="189.85" width="4.5" height="4.5"/><rect x="614.52" y="183.65" width="4.5" height="4.5"/><rect x="618.65" y="173.75" width="4.5" height="4.5"/><rect x="622.78" y="170.75" width="4.5" height="4.5"/><rect x="626.92" y="167.15" width="4.5" height="4.5"/><rect x="631.05" y="170.25" width="4.5" height="4.5"/><rect x="635.18" y="173.65" width="4.5" height="4.5"/><rect x="639.32" y="173.65" width="4.5" height="4.5"/><rect x="643.45" y="167.65" width="4.5" height="4.5"/><rect x="647.58" y="163.75" width="4.5" height="4.5"/><rect x="651.72" y="162.05" width="4.5" height="4.5"/><rect x="655.85" y="170.05" width="4.5" height="4.5"/><rect x="659.98" y="168.35" width="4.5" height="4.5"/><rect x="664.12" y="170.05" width="4.5" height="4.5"/><rect x="668.25" y="157.65" width="4.5" height="4.5"/><rect x="672.38" y="158.65" width="4.5" height="4.5"/><rect x="676.52" y="151.15" width="4.5" height="4.5"/><rect x="680.65" y="150.95" width="4.5" height="4.5"/><rect x="684.78" y="141.85" width="4.5" height="4.5"/><rect x="688.92" y="136.55" width="4.5" height="4.5"/><rect x="693.05" y="133.25" width="4.5" height="4.5"/><rect x="697.18" y="140.55" width="4.5" height="4.5"/><rect x="701.32" y="145.85" width="4.5" height="4.5"/><rect x="705.45" y="150.35" width="4.5" height="4.5"/><rect x="709.58" y="155.75" width="4.5" height="4.5"/><rect x="713.72" y="156.55" width="4.5" height="4.5"/><rect x="717.85" y="157.65" width="4.5" height="4.5"/><rect x="721.98" y="156.85" width="4.5" height="4.5"/><rect x="726.12" y="153.15" width="4.5" height="4.5"/><rect x="730.25" y="156.55" width="4.5" height="4.5"/><rect x="734.38" y="149.25" width="4.5" height="4.5"/><rect x="738.52" y="148.05" width="4.5" height="4.5"/><rect x="742.65" y="141.45" width="4.5" height="4.5"/><rect x="746.78" y="135.15" width="4.5" height="4.5"/><rect x="750.92" y="138.25" width="4.5" height="4.5"/><rect x="755.05" y="140.55" width="4.5" height="4.5"/><rect x="759.18" y="154.65" width="4.5" height="4.5"/><rect x="763.32" y="159.95" width="4.5" height="4.5"/><rect x="767.45" y="166.05" width="4.5" height="4.5"/><rect x="771.58" y="165.35" width="4.5" height="4.5"/><rect x="775.72" y="166.35" width="4.5" height="4.5"/><rect x="779.85" y="171.75" width="4.5" height="4.5"/><rect x="783.98" y="156.85" width="4.5" height="4.5"/><rect x="788.12" y="147.15" width="4.5" height="4.5"/><rect x="792.25" y="136.65" width="4.5" height="4.5"/><rect x="796.38" y="142.65" width="4.5" height="4.5"/><rect x="800.52" y="149.45" width="4.5" height="4.5"/><rect x="804.65" y="153.45" width="4.5" height="4.5"/><rect x="808.78" y="155.75" width="4.5" height="4.5"/><rect x="812.92" y="156.55" width="4.5" height="4.5"/><rect x="817.05" y="156.85" width="4.5" height="4.5"/><rect x="821.18" y="156.85" width="4.5" height="4.5"/><rect x="825.32" y="159.75" width="4.5" height="4.5"/><rect x="829.45" y="160.85" width="4.5" height="4.5"/><rect x="833.58" y="162.05" width="4.5" height="4.5"/><rect x="837.72" y="156.55" width="4.5" height="4.5"/><rect x="841.85" y="150.35" width="4.5" height="4.5"/><rect x="845.98" y="148.85" width="4.5" height="4.5"/></g>
<rect x="345.5" y="106.5" width="163.5" height="89" fill="#fff" stroke="#808080" stroke-width="1"/>
<line x1="363" y1="122.3" x2="388" y2="122.3" stroke="#000" stroke-width="1.5"/><rect x="373.2" y="120" width="4.4" height="4.4" fill="#000"/>
<line x1="363" y1="151.5" x2="388" y2="151.5" stroke="#ff0000" stroke-width="1.5"/>
<line x1="363" y1="181.5" x2="388" y2="181.5" stroke="#000080" stroke-width="1.5"/>
<text x="392.5" y="128.4" font-size="17.6" textLength="100.3" lengthAdjust="spacingAndGlyphs">Total 3MMA</text>
<text x="392" y="158" font-size="17.6" textLength="101.5" lengthAdjust="spacingAndGlyphs">Light Trucks</text>
<text x="392" y="187.3" font-size="17.6" textLength="47.3" lengthAdjust="spacingAndGlyphs">Autos</text>
<text x="18.2" y="37.7" font-size="25">Fig 1</text>
<text x="457" y="52" font-size="24" font-weight="bold" text-anchor="middle" textLength="628.5" lengthAdjust="spacingAndGlyphs">Sales of Autos and Light Trucks in the U.S. Annual rate</text>
<text x="457" y="82.6" font-size="24" font-weight="bold" text-anchor="middle">Through December 2018.</text>
<text transform="translate(32.2,398.5) rotate(-90) scale(1,1.08)" font-size="21.25" font-weight="bold">Units millions.</text>
<rect x="740" y="57" width="129" height="39.5" fill="#fff"/>
<defs><linearGradient id="og" gradientUnits="userSpaceOnUse" x1="0" y1="59" x2="0" y2="95"><stop offset="0" stop-color="#f7a435"/><stop offset="0.45" stop-color="#f07a28"/><stop offset="0.7" stop-color="#e54a22"/><stop offset="1" stop-color="#c0141a"/></linearGradient><linearGradient id="bg" gradientUnits="userSpaceOnUse" x1="0" y1="73" x2="0" y2="81"><stop offset="0" stop-color="#2a5cb0"/><stop offset="1" stop-color="#0c2266"/></linearGradient><linearGradient id="bg2" gradientUnits="userSpaceOnUse" x1="0" y1="73" x2="0" y2="81"><stop offset="0" stop-color="#3a6cc0"/><stop offset="1" stop-color="#163a88"/></linearGradient><linearGradient id="bg3" gradientUnits="userSpaceOnUse" x1="0" y1="73" x2="0" y2="81"><stop offset="0" stop-color="#5a92d4"/><stop offset="1" stop-color="#3450a0"/></linearGradient></defs>
<path d="M756.4,68.1 A17.8,17.8 0 1 1 756.4,86.1 A14.45,14.45 0 1 0 756.4,68.1 Z" fill="url(#og)"/>
<rect x="779" y="71.8" width="13" height="10.6" fill="#fff"/>
<text x="742.2" y="80.8" font-size="10.5" font-weight="bold" fill="url(#bg)" stroke="#183a84" stroke-width="0.25" textLength="35.5" lengthAdjust="spacingAndGlyphs">STEEL</text>
<text x="782" y="80.8" font-size="10.5" font-weight="bold" fill="url(#bg2)" stroke="#1e4690" stroke-width="0.2" textLength="43" lengthAdjust="spacingAndGlyphs">MARKET</text>
<text x="828.7" y="80.8" font-size="10.5" fill="url(#bg3)" stroke="#4a70b8" stroke-width="0.12" textLength="39.3" lengthAdjust="spacingAndGlyphs">UPDATE</text>
</svg></body></html>
